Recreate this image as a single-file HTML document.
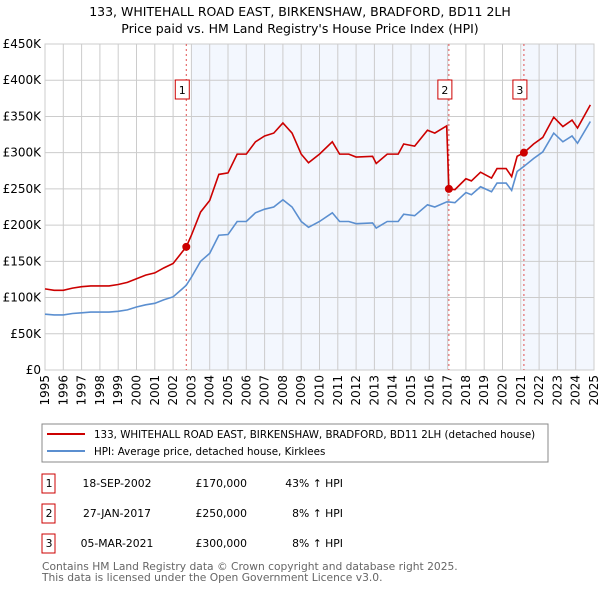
<!DOCTYPE html>
<html><head><meta charset="utf-8"><style>
body{margin:0;background:#fff;width:600px;height:590px;overflow:hidden;font-family:"DejaVu Sans","Liberation Sans",sans-serif;}
svg text{font-family:"DejaVu Sans","Liberation Sans",sans-serif;}
</style></head><body>
<svg id="c" width="600" height="590" xmlns="http://www.w3.org/2000/svg">
<text x="300" y="16" text-anchor="middle" font-size="12.5">133, WHITEHALL ROAD EAST, BIRKENSHAW, BRADFORD, BD11 2LH</text>
<text x="300" y="33" text-anchor="middle" font-size="12.5">Price paid vs. HM Land Registry's House Price Index (HPI)</text>
<g id="plot"></g>
<rect x="42" y="424" width="506" height="38" fill="#fff" stroke="#888"/>
<line x1="47" y1="434" x2="85" y2="434" stroke="#cc0000" stroke-width="2"/>
<text x="94" y="438" font-size="10.3">133, WHITEHALL ROAD EAST, BIRKENSHAW, BRADFORD, BD11 2LH (detached house)</text>
<line x1="47" y1="451" x2="85" y2="451" stroke="#5b8fd0" stroke-width="2"/>
<text x="94" y="455" font-size="10.3">HPI: Average price, detached house, Kirklees</text>
<g id="tbl" font-size="10.8"></g>
<text x="42" y="570" font-size="10.7" fill="#666">Contains HM Land Registry data © Crown copyright and database right 2025.</text>
<text x="42" y="581" font-size="10.7" fill="#666">This data is licensed under the Open Government Licence v3.0.</text>
</svg>
<script>
const hpiYears=[1995,1995.5,1996,1996.5,1997,1997.5,1998,1998.5,1999,1999.5,2000,2000.5,2001,2001.5,2002,2002.5,2002.72,2003,2003.5,2004,2004.5,2005,2005.5,2006,2006.5,2007,2007.5,2008,2008.5,2009,2009.4,2010,2010.7,2011.1,2011.6,2012,2012.9,2013.1,2013.7,2014.3,2014.6,2015.2,2015.9,2016.3,2016.95,2017.07,2017.4,2018,2018.3,2018.8,2019.4,2019.7,2020.2,2020.5,2020.8,2021.17,2021.7,2022.2,2022.8,2023.3,2023.8,2024.1,2024.8];
const hpiValues=[77,76,76,78,79,80,80,80,81,83,87,90,92,97,101,112,117,128,150,161,186,187,205,205,217,222,225,235,225,205,197,205,217,205,205,202,203,196,205,205,215,213,228,225,232,232,231,245,242,253,246,258,258,248,274,281,292,301,327,315,323,313,343];
const redYears=[1995,1995.5,1996,1996.5,1997,1997.5,1998,1998.5,1999,1999.5,2000,2000.5,2001,2001.5,2002,2002.5,2002.72,2003,2003.5,2004,2004.5,2005,2005.5,2006,2006.5,2007,2007.5,2008,2008.5,2009,2009.4,2010,2010.7,2011.1,2011.6,2012,2012.9,2013.1,2013.7,2014.3,2014.6,2015.2,2015.9,2016.3,2016.95,2017.07,2017.4,2018,2018.3,2018.8,2019.4,2019.7,2020.2,2020.5,2020.8,2021.17,2021.7,2022.2,2022.8,2023.3,2023.8,2024.1,2024.8];
const redValues=[112,110,110,113,115,116,116,116,118,121,126,131,134,141,147,163,170,186,218,234,270,272,298,298,315,323,327,341,327,298,286,298,315,298,298,294,295,285,298,298,312,309,331,327,337,250,249,264,261,273,265,278,278,267,295,300,312,321,349,336,345,334,366];
const saleLabels=["1","2","3"];
const saleYears=[2002.72,2017.07,2021.17];
const saleValues=[170,250,300];
const saleDates=["18-SEP-2002","27-JAN-2017","05-MAR-2021"];
const salePrices=["£170,000","£250,000","£300,000"];
const salePcts=["43% ↑ HPI","8% ↑ HPI","8% ↑ HPI"];
const yTicks=[0,50,100,150,200,250,300,350,400,450];
const yTickLabels=["£0","£50K","£100K","£150K","£200K","£250K","£300K","£350K","£400K","£450K"];
const xTicks=[1995,1996,1997,1998,1999,2000,2001,2002,2003,2004,2005,2006,2007,2008,2009,2010,2011,2012,2013,2014,2015,2016,2017,2018,2019,2020,2021,2022,2023,2024,2025];

const X0=45,X1=594,Y0=370,Y1=44;
const xs=y=>X0+(y-1995)/30*(X1-X0);
const ys=v=>Y0-v/450*(Y0-Y1);
const NS="http://www.w3.org/2000/svg";
const plot=document.getElementById('plot');
function mk(tag,attrs,parent){const e=document.createElementNS(NS,tag);for(const k in attrs)e.setAttribute(k,attrs[k]);(parent||plot).appendChild(e);return e;}
mk('rect',{x:X0,y:Y1,width:X1-X0,height:Y0-Y1,fill:'#fff'});
let s1=mk('rect',{x:xs(2003),y:Y1,width:xs(saleYears[1])-xs(2003),height:Y0-Y1,fill:'#eef3fd',opacity:0.7});


let s2=mk('rect',{x:xs(saleYears[2])-2,y:Y1,width:X1-xs(saleYears[2])+2,height:Y0-Y1,fill:'#eef3fd',opacity:0.7});


yTicks.forEach((t,i)=>{
  mk('line',{x1:X0,x2:X1,y1:ys(t),y2:ys(t),stroke:'#ccc','stroke-width':1});
  const tx=mk('text',{x:X0-4,y:ys(t)+4,'text-anchor':'end','font-size':12});
  tx.textContent=yTickLabels[i];
  
  
});
xTicks.forEach(t=>{
  mk('line',{x1:xs(t),x2:xs(t),y1:Y1,y2:Y0,stroke:'#ccc','stroke-width':1});
  const tx=mk('text',{x:0,y:0,'text-anchor':'end','font-size':12,transform:`translate(${xs(t)+4},${Y0+5}) rotate(-90)`});
  tx.textContent=t;
  
  
});
mk('rect',{x:X0,y:Y1,width:X1-X0,height:Y0-Y1,fill:'none',stroke:'#ccc'});
saleYears.forEach((y,i)=>{
  const l=mk('line',{x1:xs(y),x2:xs(y),y1:Y1,y2:Y0,stroke:'#e05050','stroke-dasharray':'2,3','stroke-width':1});
  
  
});
const hp=mk('polyline',{points:hpiYears.map((y,i)=>xs(y)+','+ys(hpiValues[i])).join(' '),fill:'none',stroke:'#5b8fd0','stroke-width':1.6});


const rp=mk('polyline',{points:redYears.map((y,i)=>xs(y)+','+ys(redValues[i])).join(' '),fill:'none',stroke:'#cc0000','stroke-width':1.6});


saleYears.forEach((y,i)=>{
  const c=mk('circle',{cx:xs(y),cy:ys(saleValues[i]),r:4,fill:'#cc0000'});
  
  
  const b=mk('rect',{x:xs(y)-11,y:80,width:14,height:19,fill:'#fff',stroke:'#cc0000'});
  
  
  const t=mk('text',{x:xs(y)-4,y:94,'text-anchor':'middle','font-size':11});
  t.textContent=saleLabels[i];
  
  
});
const tbl=document.getElementById('tbl');
saleLabels.forEach((s,i)=>{
  const cy=483+i*30;
  const b=mk('rect',{x:42,y:cy-9,width:13,height:19,fill:'#fff',stroke:'#cc0000'},tbl);
  
  
  const cells=[[49,'middle',s],[117,'middle',saleDates[i]],[247,'end',salePrices[i]],[343,'end',salePcts[i]]];
  cells.forEach(c=>{
    const t=mk('text',{x:c[0],y:cy+4,'text-anchor':c[1]},tbl);
    t.textContent=c[2];
    
    
  });
});
</script>
</body></html>
